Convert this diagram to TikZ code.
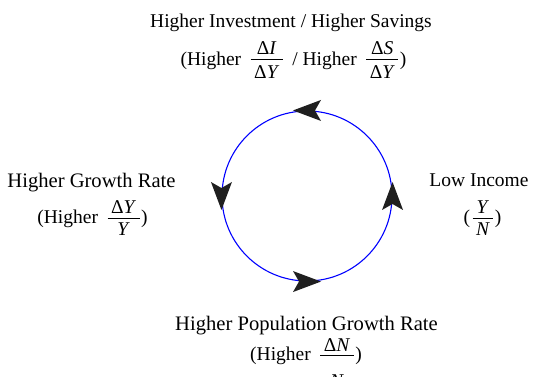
\documentclass[tikz,border=0pt]{standalone}
\usepackage{fontspec}
\setmainfont{Liberation Serif}
\newsavebox\frnumbox
\newsavebox\frdenbox
\newlength\frwd
\newcommand{\fr}[4]{%
  \sbox\frnumbox{#1}\sbox\frdenbox{#2}%
  \setlength\frwd{\wd\frnumbox}%
  \ifdim\wd\frdenbox>\frwd \setlength\frwd{\wd\frdenbox}\fi
  \addtolength\frwd{7pt}%
  \kern1.5pt
  \rlap{\raisebox{#3}{\makebox[\frwd]{\usebox\frnumbox}}}%
  \rlap{\raisebox{-#4}{\makebox[\frwd]{\usebox\frdenbox}}}%
  \raisebox{5.5pt}{\rule{\frwd}{0.6pt}}%
  \kern1.5pt}
\begin{document}
\begin{tikzpicture}[x=1pt,y=1pt,
  lbl/.style={anchor=base,inner sep=0pt,font=\fontsize{19.5}{23}\selectfont},
  biglbl/.style={lbl,font=\fontsize{20.6}{24}\selectfont},
  cyclearrowhd/.pic={\fill[black!88] (14,0) -- (-14,10.5) -- (-8,0) -- (-14,-10.5) -- cycle;}]
\useasboundingbox (0,0) rectangle (536,377);
\node[circle,draw=blue,line width=1.1pt,minimum size=170pt,inner sep=0pt] (cyc) at (307,181) {};
\pic[rotate=180] at (cyc.north) {cyclearrowhd};
\pic[rotate=-90] at (cyc.west) {cyclearrowhd};
\pic[rotate=0] at (cyc.south) {cyclearrowhd};
\pic[rotate=90] at (cyc.east) {cyclearrowhd};
\node[lbl] (top1) at (291,349) {Higher Investment / Higher Savings};
\node[lbl] (top2) at (293.5,311.5) {(Higher\hspace{8pt}\fr{Δ\textit{I}}{Δ\textit{Y}}{10.5pt}{13pt}\hspace{8pt}/ Higher\hspace{8pt}\fr{Δ\textit{S}}{Δ\textit{Y}}{10.5pt}{13pt})};
\node[biglbl] (left1) at (91.5,189) {Higher Growth Rate};
\node[lbl] (left2) at (92.5,153) {(Higher\hspace{8pt}\fr{Δ\textit{Y}}{\textit{Y}}{10.5pt}{12pt})};
\node[lbl] (right1) at (479,190) {Low Income};
\node[lbl] (right2) at (482.5,153) {(\hspace{1pt}\fr{\textit{Y}}{\textit{N}}{10.5pt}{12pt})};
\node[biglbl] (bot1) at (306.5,46) {Higher Population Growth Rate};
\node[lbl] (bot2) at (306,16) {(Higher\hspace{8pt}\fr{Δ\textit{N}}{\textit{N}}{9pt}{27pt})};
\end{tikzpicture}
\end{document}
